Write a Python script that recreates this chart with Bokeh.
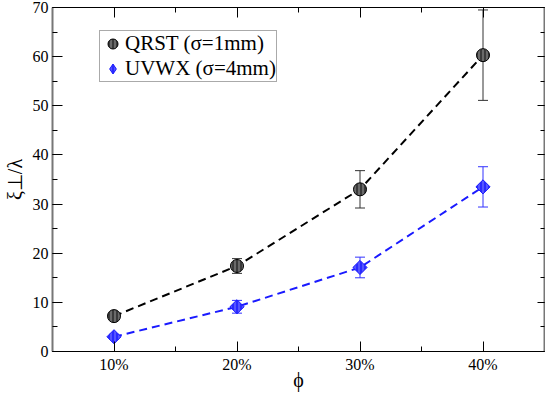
import math
from bokeh.plotting import figure
from bokeh.models import (ColumnDataSource, Whisker, TeeHead, FixedTicker, SingleIntervalTicker,
                          LinearAxis, Range1d, Legend, LegendItem)
from bokeh.embed import file_html
from bokeh.resources import INLINE

# ---- data ----
phi = [10, 20, 30, 40]
phi_labels = ["10%", "20%", "30%", "40%"]
qrst = [7.2, 17.4, 33.0, 60.3]
qrst_err = [0.5, 1.5, 3.8, 9.2]
uvwx = [3.0, 9.1, 17.1, 33.5]
uvwx_err = [0.5, 1.3, 2.1, 4.1]
label_q = "QRST (σ=1mm)"
label_u = "UVWX (σ=4mm)"

FONT = "Liberation Serif"

p = figure(width=545, height=393, output_backend="svg", toolbar_location=None,
           x_range=Range1d(5, 45), y_range=Range1d(0, 70),
           min_border_left=8, min_border_right=1, min_border_top=7, min_border_bottom=0)
p.background_fill_color = "white"
p.border_fill_color = "white"
p.outline_line_color = "black"
p.outline_line_width = 1
p.grid.visible = False

src_q = ColumnDataSource(dict(x=phi, y=qrst,
                              lo=[a - b for a, b in zip(qrst, qrst_err)],
                              hi=[a + b for a, b in zip(qrst, qrst_err)]))
src_u = ColumnDataSource(dict(x=phi, y=uvwx,
                              lo=[a - b for a, b in zip(uvwx, uvwx_err)],
                              hi=[a + b for a, b in zip(uvwx, uvwx_err)]))

# dashed lines
p.line("x", "y", source=src_q, line_color="black", line_width=2, line_dash="8 5")
p.line("x", "y", source=src_u, line_color="#1a1aff", line_width=2, line_dash="8 5")

# error bars
for src, col in ((src_q, "#333333"), (src_u, "#3333ff")):
    w = Whisker(source=src, base="x", lower="lo", upper="hi", dimension="height",
                line_color=col, line_width=1,
                upper_head=TeeHead(size=10, line_color=col, line_width=1),
                lower_head=TeeHead(size=10, line_color=col, line_width=1))
    p.add_layout(w)

q_style = dict(fill_color="#3a3a3a", line_color="black", line_width=1,
               hatch_pattern="vertical_line", hatch_color="#9a9a9a", hatch_scale=4, hatch_weight=1)
u_style = dict(fill_color="#2a2aff", line_color="#1a1aff", line_width=1,
               hatch_pattern="vertical_line", hatch_color="#8080ff", hatch_scale=4, hatch_weight=1)

rq = p.scatter("x", "y", source=src_q, marker="circle", size=13, **q_style)
ru = p.scatter("x", "y", source=src_u, marker="square", size=10, angle=math.pi / 4, **u_style)
# hidden diamond renderer used only for the legend swatch
ru_leg = p.scatter("x", "y", source=src_u, marker="diamond", size=10, visible=False, **u_style)

# axes styling
xa = p.xaxis[0]
xa.ticker = FixedTicker(ticks=phi, minor_ticks=[15, 25, 35])
xa.major_label_overrides = {v: s for v, s in zip(phi, phi_labels)}
xa.axis_label = "ϕ"
ya = p.yaxis[0]
ya.ticker = SingleIntervalTicker(interval=10, num_minor_ticks=2)
ya.axis_label = "ξ⊥/λ"
for ax in (xa, ya):
    ax.major_tick_in = 10
    ax.major_tick_out = 0
    ax.minor_tick_in = 5
    ax.minor_tick_out = 0
    ax.major_label_text_font = FONT
    ax.major_label_text_font_size = "16px"
    ax.major_label_text_color = "black"
    ax.axis_label_text_font = FONT
    ax.axis_label_text_font_size = "20px"
    ax.axis_label_text_font_style = "normal"
    ax.axis_label_text_color = "black"
    ax.major_tick_line_color = "black"
    ax.minor_tick_line_color = "black"
xa.axis_line_color = "black"
xa.major_label_standoff = 4
xa.axis_label_standoff = -7
ya.axis_line_color = "#777777"
ya.axis_line_width = 2
ya.major_label_standoff = 4
ya.axis_label_standoff = 4

# mirrored ticks
top = LinearAxis(ticker=FixedTicker(ticks=phi, minor_ticks=[15, 25, 35]),
                 major_label_text_font_size="0px", major_tick_in=10, major_tick_out=0,
                 minor_tick_in=5, minor_tick_out=0, axis_line_color="black",
                 major_label_standoff=0)
right = LinearAxis(ticker=SingleIntervalTicker(interval=10, num_minor_ticks=2),
                   major_label_text_font_size="0px", major_tick_in=7, major_tick_out=0,
                   minor_tick_in=4, minor_tick_out=0, axis_line_color="#777777",
                   axis_line_width=2, major_label_standoff=0)
p.add_layout(top, "above")
p.add_layout(right, "right")

legend = Legend(items=[LegendItem(label=label_q, renderers=[rq]),
                       LegendItem(label=label_u, renderers=[ru_leg])],
                location=(47, 269))
legend.label_text_font = FONT
legend.label_text_font_size = "21px"
legend.label_text_color = "black"
legend.border_line_color = "#555555"
legend.border_line_width = 1
legend.glyph_width = 25
legend.glyph_height = 25
legend.label_standoff = 0
legend.label_height = 24
legend.spacing = 0
legend.padding = 0
legend.margin = 0
legend.background_fill_alpha = 1
p.add_layout(legend, "center")

open("out.html", "w").write(file_html(p, INLINE))
